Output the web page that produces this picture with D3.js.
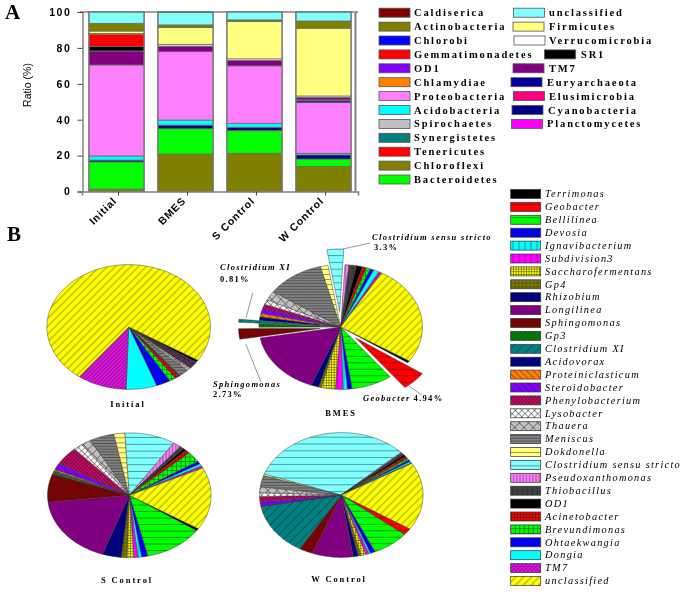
<!DOCTYPE html>
<html><head><meta charset="utf-8">
<script src="https://cdn.jsdelivr.net/npm/d3@7"></script>
<style>
html,body{margin:0;padding:0;background:#fff}
svg{display:block;filter:blur(0.3px)}
.serif{font-family:"Liberation Serif",serif}
.sans{font-family:"Liberation Sans",Arial,sans-serif}
</style></head><body><div id="chart"></div>
<script>
// ---------- Panel A data ----------
const samples = ["Initial","BMES","S Control","W Control"];
const phylaStack = ["Chloroflexi","Bacteroidetes","Cyanobacteria","Acidobacteria","Proteobacteria","Euryarchaeota","Elusimicrobia","TM7","SR1","Gemmatimonadetes","Chlamydiae","Verrucomicrobia","Firmicutes","Actinobacteria","unclassified","Caldiserica"];
const chloroflexi      = [1.3,20.9,21.3,14];
const bacteroidetes    = [15.2,14.1,12.6,4.1];
const cyanobacteria    = [1,2,1.9,2.3];
const acidobacteria    = [2.3,2.8,2.2,0.9];
const proteobacteria   = [50.7,38.1,32,28.2];
const euryarchaeota    = [0,0,0,1];
const elusimicrobia    = [0,0,0,0.6];
const tm7Phylum        = [7.8,3.1,3,1.3];
const sr1              = [2.4,0,0,0];
const gemmatimonadetes = [6.9,0,0,0];
const chlamydiae       = [0.4,0,0,0];
const verrucomicrobia  = [0,1,0.9,0.8];
const firmicutes       = [1.4,9.3,20.8,37.8];
const actinobacteria   = [4.3,1.5,0.9,4];
const unclassifiedPh   = [6.3,6.9,4.5,5];
const caldiserica      = [0,0.3,0,0];
const stackValues = [chloroflexi,bacteroidetes,cyanobacteria,acidobacteria,proteobacteria,euryarchaeota,elusimicrobia,tm7Phylum,sr1,gemmatimonadetes,chlamydiae,verrucomicrobia,firmicutes,actinobacteria,unclassifiedPh,caldiserica];
const phylumColors = {Caldiserica:"#800000",Actinobacteria:"#808000",Chlorobi:"#0000ff",Gemmatimonadetes:"#ff0000",OD1:"#8000ff",Chlamydiae:"#ff8000",Proteobacteria:"#ff80ff",Acidobacteria:"#00ffff",Spirochaetes:"#c0c0c0",Synergistetes:"#008080",Tenericutes:"#ff0000",Chloroflexi:"#808000",Bacteroidetes:"#00ff00",unclassified:"#80ffff",Firmicutes:"#ffff80",Verrucomicrobia:"#ffffff",SR1:"#000000",TM7:"#800080",Euryarchaeota:"#000099",Elusimicrobia:"#ff0080",Cyanobacteria:"#000080",Planctomycetes:"#ff00ff"};
const legendACol1 = ["Caldiserica","Actinobacteria","Chlorobi","Gemmatimonadetes","OD1","Chlamydiae","Proteobacteria","Acidobacteria","Spirochaetes","Synergistetes","Tenericutes","Chloroflexi","Bacteroidetes"];
const legendACol2 = ["unclassified","Firmicutes","Verrucomicrobia","SR1","TM7","Euryarchaeota","Elusimicrobia","Cyanobacteria","Planctomycetes"];
const yTicks = [0,20,40,60,80,100];

// ---------- Panel B data (percent of reads, legend order) ----------
const genera = ["Terrimonas","Geobacter","Bellilinea","Devosia","Ignavibacterium","Subdivision3","Saccharofermentans","Gp4","Rhizobium","Longilinea","Sphingomonas","Gp3","Clostridium XI","Acidovorax","Proteiniclasticum","Steroidobacter","Phenylobacterium","Lysobacter","Thauera","Meniscus","Dokdonella","Clostridium sensu stricto","Pseudoxanthomonas","Thiobacillus","OD1","Acinetobacter","Brevundimonas","Ohtaekwangia","Dongia","TM7","unclassified"];
const initialGenera = [0.64,0.06,0.08,0.06,0.03,0.06,0.08,0.08,0.14,0.42,0.14,0.22,0.06,0.08,0.08,0.08,0.22,0.28,0.56,1.67,0.11,0.11,0.08,0.08,0.11,0.89,1.3,2.78,6.06,9.81,73.63];
const bmesGenera    = [0.56,4.94,8.11,0.92,0.86,1.5,2.78,0.5,1.53,16.3,2.73,0.94,0.81,0.94,0.89,1.33,1.11,1.19,2.42,11.42,1.5,3.3,0.83,1.47,1.17,0.83,0.83,0.69,1.11,0.56,25.83];
const sControlGenera= [0.61,0,11.72,1.22,0.72,0.81,1.36,1.08,3.72,17.86,7.25,0.44,0.36,0.06,0.47,1.67,4.75,1.81,2.03,4.78,2.19,9.97,1.58,0.83,0.56,0.97,2.75,0.72,0.61,0.58,16.14];
const wControlGenera= [0.08,1.72,7.25,0.94,0.42,0.56,0.97,0.56,1,8.06,2.67,0.06,13.56,0.06,0.06,1.11,1.31,0.97,1.53,2.92,0.44,32.5,0.25,0.56,0.56,0.69,0.47,0.42,0.42,0.14,17.6];
const bmesExploded = ["Geobacter","Sphingomonas","Clostridium XI","Clostridium sensu stricto"];

// ---------- Styles (fill, hatch kind, spacing) ----------
const hatchStyles = [
 ["#000000","none",0],["#ff0000","h",6.5],["#00ff00","h",6.5],["#0000ff","v",5],["#00ffff","v",6],["#ff00ff","v",6],
 ["#ffff00","grid",2.6],["#808000","grid",3.8],["#000080","v",7],["#800080","none",0],["#800000","f",3.2],["#008000","f",3.6],
 ["#008080","f",6.5],["#000080","f",7],["#ff8000","b",4.5],["#8000ff","b",5],["#e0006e","x",2.6],["#ffffff","x",4.5],
 ["#c0c0c0","x",6.5],["#808080","h",2.8],["#ffff80","h",5],["#80ffff","h",6.8],["#ff80ff","v",3.2],["#404040","v",5],
 ["#000000","none",0],["#ff0000","grid",3],["#00ff00","grid",4.5],["#0000ff","v",7],["#00ffff","none",0],["#e010e0","f",2.8],["#ffff00","f",5.5]
];

// ---------- Layout ----------
const width = 685, height = 592;
const svg = d3.select("#chart").append("svg").attr("width",width).attr("height",height);
const defs = svg.append("defs");

hatchStyles.forEach(([fill,kind,s],i)=>{
  if(kind==="none") return;
  const angle = {f:-45,b:45,x:45}[kind]||0;
  const p = defs.append("pattern").attr("id","hatch"+i).attr("patternUnits","userSpaceOnUse")
     .attr("width",s).attr("height",s).attr("patternTransform",angle?`rotate(${angle})`:null);
  p.append("rect").attr("width",s).attr("height",s).attr("fill",fill);
  const ln=(x1,y1,x2,y2)=>p.append("line").attr("x1",x1).attr("y1",y1).attr("x2",x2).attr("y2",y2).attr("stroke","#222").attr("stroke-width",0.45);
  if(kind==="h"||kind==="grid"||kind==="x"||kind==="f"||kind==="b") ln(0,s/2,s,s/2);
  if(kind==="v"||kind==="grid"||kind==="x") ln(s/2,0,s/2,s);
});
const hatchFill = i => hatchStyles[i][1]==="none" ? hatchStyles[i][0] : `url(#hatch${i})`;

// Panel letters
svg.append("text").attr("class","serif").attr("x",5).attr("y",19).attr("font-size",21).attr("font-weight","bold").text("A");
svg.append("text").attr("class","serif").attr("x",7).attr("y",241).attr("font-size",21).attr("font-weight","bold").text("B");

// ---------- Panel A: stacked bars ----------
const x = d3.scaleBand().domain(samples).range([82,358]).paddingInner(0.2).paddingOuter(0.1);
const y = d3.scaleLinear().domain([0,100]).range([191.5,12]);
const table = samples.map((s,i)=>{const r={sample:s};phylaStack.forEach((p,j)=>r[p]=stackValues[j][i]);return r;});
const stacked = d3.stack().keys(phylaStack)(table);

const axisGrey="#808080";
const frame = svg.append("g");
frame.append("line").attr("x1",80).attr("x2",358).attr("y1",y(100)).attr("y2",y(100)).attr("stroke",axisGrey).attr("stroke-width",1.6);
frame.append("line").attr("x1",355.5).attr("x2",355.5).attr("y1",y(100)).attr("y2",y(0)).attr("stroke",axisGrey).attr("stroke-width",2);

const gBars = svg.append("g");
stacked.forEach(layer=>{
  gBars.append("g").attr("fill",phylumColors[layer.key]).selectAll("rect").data(layer.filter(d=>d[1]>d[0])).join("rect")
    .attr("x",d=>x(d.data.sample)).attr("width",x.bandwidth())
    .attr("y",d=>y(d[1])).attr("height",d=>y(d[0])-y(d[1]))
    .attr("stroke","#6a6a6a").attr("stroke-width",0.8);
});
gBars.append("g").selectAll("rect").data(samples).join("rect")
  .attr("x",d=>x(d)).attr("width",x.bandwidth()).attr("y",y(100)).attr("height",y(0)-y(100))
  .attr("fill","none").attr("stroke","#777").attr("stroke-width",1.2);

const axL = svg.append("g").attr("transform","translate(82.5,0)")
  .call(d3.axisLeft(y).tickValues(yTicks).tickSize(5).tickPadding(6));
axL.select(".domain").attr("stroke","#444").attr("stroke-width",1);
axL.selectAll(".tick line").attr("stroke","#444");
axL.selectAll("text").attr("class","sans").attr("font-family",null).attr("font-size",10.5).attr("font-weight","bold").attr("letter-spacing",1.6).attr("fill","#000");

const axB = svg.append("g").attr("transform",`translate(0,${y(0)})`)
  .call(d3.axisBottom(x).tickSize(4));
axB.select(".domain").attr("stroke",axisGrey).attr("stroke-width",1.6);
axB.selectAll(".tick line").attr("stroke","#444").attr("transform","translate(2,0)");
axB.selectAll("text").attr("class","sans").attr("font-size",10.5).attr("font-weight","bold").attr("letter-spacing",0.9).attr("fill","#000")
  .attr("text-anchor","end").attr("dy",0).attr("y",0).attr("transform","translate(1,10) rotate(-45)");

svg.append("text").attr("class","sans").attr("transform","translate(31,85) rotate(-90)").attr("text-anchor","middle")
  .attr("font-size",10.5).text("Ratio (%)");

// Legend A
const legARowH = 13.9, legAY0 = 12.7;
function legendA(names,xs,txs){
  const g = svg.append("g").selectAll("g").data(names).join("g");
  g.append("rect").attr("x",(d,i)=>xs[i]).attr("y",(d,i)=>legAY0+i*legARowH-4.5).attr("width",31).attr("height",9)
    .attr("fill",d=>phylumColors[d]).attr("stroke","#555").attr("stroke-width",0.8);
  g.append("text").attr("class","serif").attr("x",(d,i)=>txs[i]).attr("y",(d,i)=>legAY0+i*legARowH+3.5)
    .attr("font-size",10.5).attr("font-weight","bold").attr("letter-spacing",1.85).text(d=>d);
}
legendA(legendACol1,legendACol1.map(()=>379),legendACol1.map(()=>414));
legendA(legendACol2,[513.5,513,514,544.5,513,511,513.5,512,511.5],[549,549,549,581,549,547,549,548,547]);

// ---------- Panel B: pies ----------
const rx = 81.8, ry = 62.4, explodeBy = 0.25;
const pies = [
  {label:"Initial",  values:initialGenera,  cx:128.7,cy:327,   start:122.2, exploded:[], lx:128,ly:407},
  {label:"BMES",     values:bmesGenera,     cx:340.7,cy:327,   start:123,   exploded:bmesExploded, lx:341,ly:416},
  {label:"S Control",values:sControlGenera, cx:129.3,cy:495.3, start:122.4, exploded:[], lx:127,ly:583},
  {label:"W Control",values:wControlGenera, cx:341.3,cy:495,   start:123,   exploded:[], lx:339,ly:582}
];
const rad = Math.PI/180;
const pieLayout = d3.pie().sort(null).value(d=>d);
const slicePath = d3.line().curve(d3.curveLinearClosed);
pies.forEach(pc=>{
  const arcs = pieLayout.startAngle(pc.start*rad).endAngle((pc.start+360)*rad)(pc.values);
  const g = svg.append("g").attr("transform",`translate(${pc.cx},${pc.cy})`);
  g.selectAll("path").data(arcs.filter(a=>a.value>0)).join("path")
   .attr("d",a=>{
     const ex = pc.exploded.includes(genera[a.index]) ? explodeBy : 0;
     const mid=(a.startAngle+a.endAngle)/2;
     const ox = ex*rx*Math.sin(mid), oy = -ex*ry*Math.cos(mid);
     const n = Math.max(2,Math.ceil((a.endAngle-a.startAngle)/(2*rad)));
     const pts = [[ox,oy]].concat(d3.range(n+1).map(k=>{
       const t=a.startAngle+(a.endAngle-a.startAngle)*k/n;
       return [ox+rx*Math.sin(t), oy-ry*Math.cos(t)];
     }));
     return slicePath(pts);
   })
   .attr("fill",a=>hatchFill(a.index)).attr("stroke","#333").attr("stroke-width",0.45).attr("stroke-linejoin","round");
  svg.append("text").attr("class","serif").attr("x",pc.lx).attr("y",pc.ly).attr("text-anchor","middle")
    .attr("font-size",8.5).attr("font-weight","bold").attr("letter-spacing",1.9).text(pc.label);
});

// Callouts on BMES pie
const leaders = [[343,249,370,243],[246,318,252.7,293],[245.7,344,261,382],[409,386,421.7,395]];
svg.append("g").selectAll("line").data(leaders).join("line")
  .attr("x1",d=>d[0]).attr("y1",d=>d[1]).attr("x2",d=>d[2]).attr("y2",d=>d[3]).attr("stroke","#555").attr("stroke-width",0.6);
const callouts = [
 ["Clostridium sensu stricto",372,240,true],["3.3%",374,250,false],
 ["Clostridium XI",220,270,true],["0.81%",220,282,false],
 ["Sphingomonas",213,387,true],["2.73%",213,397,false]
];
svg.append("g").selectAll("text").data(callouts).join("text").attr("class","serif")
  .attr("x",d=>d[1]).attr("y",d=>d[2]).attr("font-size",8.5).attr("font-weight","bold")
  .attr("font-style",d=>d[3]?"italic":"normal").attr("letter-spacing",1.3).text(d=>d[0]);
const geo = svg.append("text").attr("class","serif").attr("x",363).attr("y",401).attr("font-size",8.5).attr("font-weight","bold").attr("letter-spacing",1.3);
geo.append("tspan").attr("font-style","italic").text("Geobacter");
geo.append("tspan").attr("dx",3).text("4.94%");

// Legend B
const legB = svg.append("g").selectAll("g").data(genera).join("g");
legB.append("rect").attr("x",510.7).attr("y",(d,i)=>194+i*12.9-4.5).attr("width",30).attr("height",9)
   .attr("fill",(d,i)=>hatchFill(i)).attr("stroke","#333").attr("stroke-width",0.7);
legB.append("text").attr("class","serif").attr("x",545).attr("y",(d,i)=>194+i*12.9+3.2)
   .attr("font-size",10.3).attr("font-style","italic").attr("letter-spacing",1.3).text(d=>d);
</script></body></html>
